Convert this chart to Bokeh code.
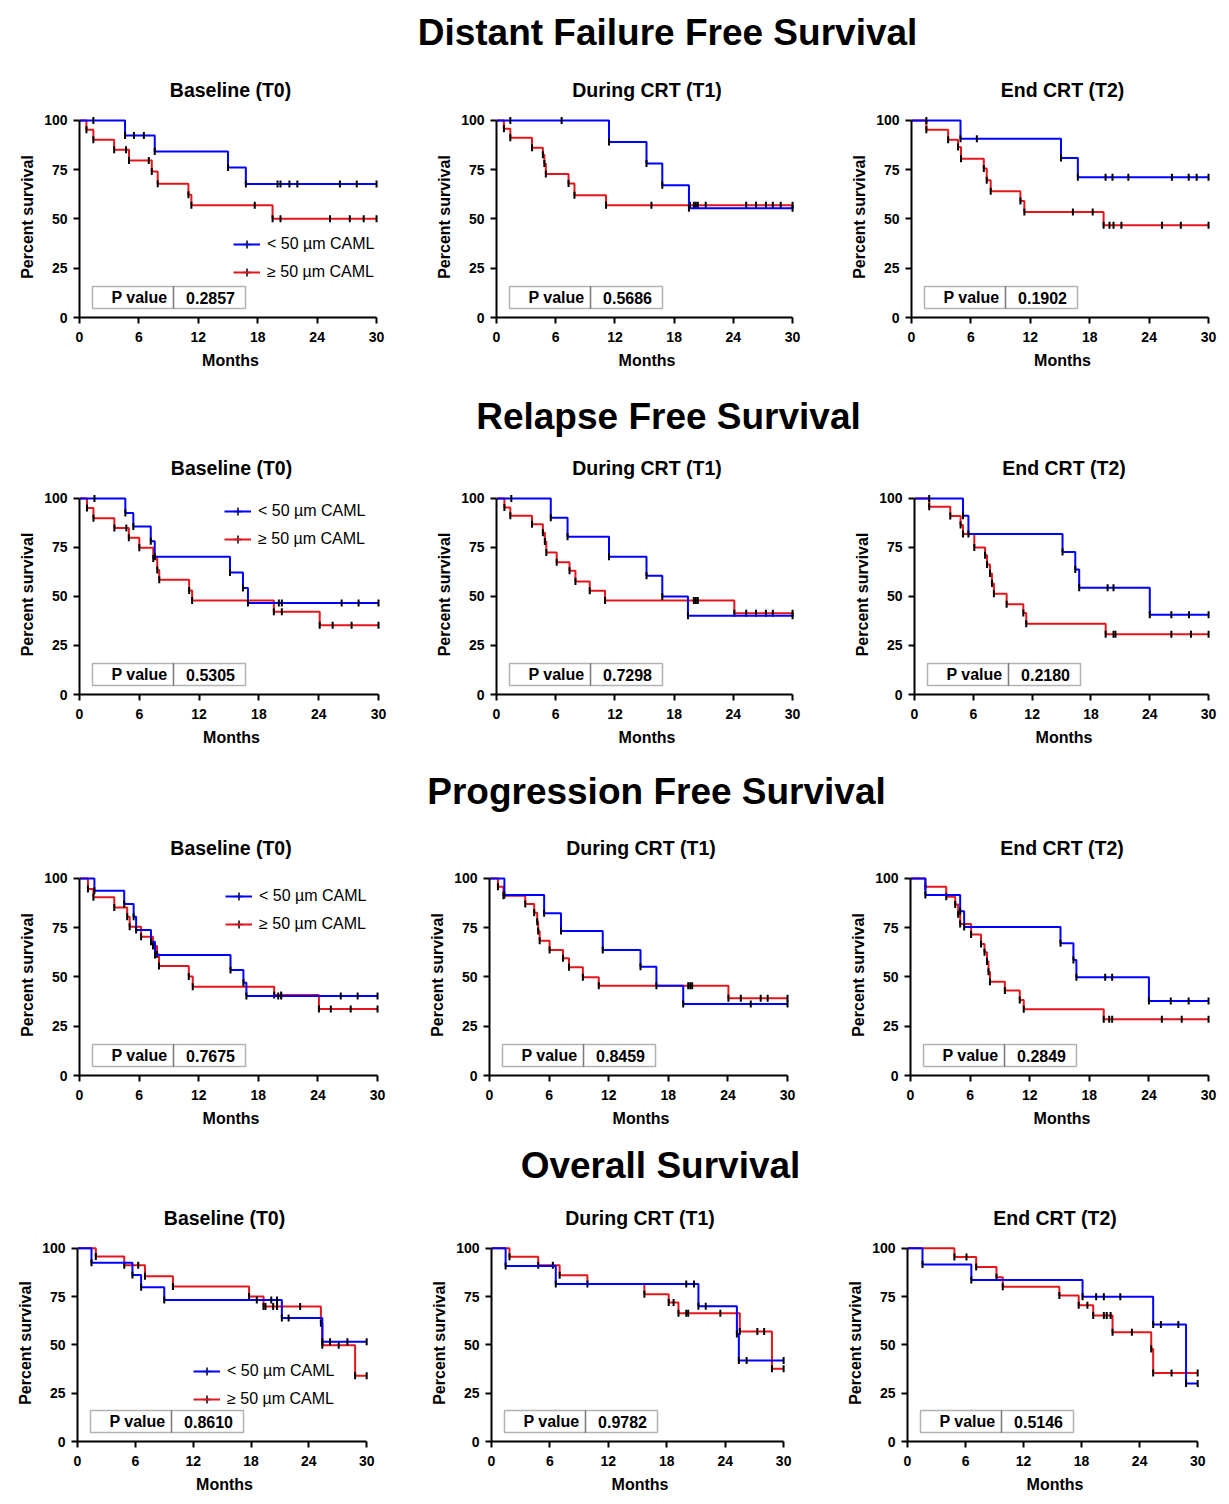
import numpy as np
from bokeh.plotting import figure
from bokeh.layouts import column, row
from bokeh.models import (Range1d, FixedTicker, Legend, LegendItem, BoxAnnotation, Label)
from bokeh.embed import file_html
from bokeh.resources import INLINE

FONT = "Liberation Sans"

# ---------------- texts ----------------
SECTION_TITLES = ["Distant Failure Free Survival", "Relapse Free Survival",
                  "Progression Free Survival", "Overall Survival"]
PANEL_TITLES = ["Baseline (T0)", "During CRT (T1)", "End CRT (T2)"]
GROUP_LABELS = ["< 50 \u00b5m CAML", "\u2265 50 \u00b5m CAML"]
X_TICKS = [0, 6, 12, 18, 24, 30]
Y_TICKS = [0, 25, 50, 75, 100]
X_LABEL = "Months"
Y_LABEL = "Percent survival"
P_LABEL = "P value"
P_VALUES = ["0.2857", "0.5686", "0.1902",
            "0.5305", "0.7298", "0.2180",
            "0.7675", "0.8459", "0.2849",
            "0.8610", "0.9782", "0.5146"]

# ---------------- data (event times, survival after event, censor times) ----------------
# Distant failure free survival
dffs_t0_lo_t = [4.6, 7.6, 15.0, 16.8]
dffs_t0_lo_s = [92.4, 84.3, 76.1, 67.7]
dffs_t0_lo_c = [1.4, 5.5, 6.5, 20.0, 20.3, 21.2, 22.0, 26.3, 28.0, 30.0]
dffs_t0_hi_t = [0.7, 1.4, 3.5, 5.0, 7.3, 7.9, 11.0, 11.3, 19.5]
dffs_t0_hi_s = [95.3, 90.2, 85.1, 79.7, 74.1, 67.9, 62.3, 57.0, 50.1]
dffs_t0_hi_c = [4.7, 7.0, 17.7, 20.3, 25.3, 27.3, 28.7, 30.0]

dffs_t1_lo_t = [11.4, 15.2, 16.8, 19.5]
dffs_t1_lo_s = [89.0, 78.2, 67.1, 55.5]
dffs_t1_lo_c = [1.4, 6.6, 30.0]
dffs_t1_hi_t = [0.75, 1.4, 3.6, 4.7, 4.85, 5.0, 7.3, 7.9, 11.1]
dffs_t1_hi_s = [95.8, 91.2, 86.2, 82.6, 78.2, 72.8, 68.0, 62.1, 57.0]
dffs_t1_hi_c = [15.7, 19.6, 20.0, 20.2, 20.4, 21.2, 25.3, 26.3, 27.3, 28.0, 28.8, 30.0]

dffs_t2_lo_t = [4.95, 15.1, 16.8]
dffs_t2_lo_s = [90.7, 81.0, 71.2]
dffs_t2_lo_c = [1.5, 6.6, 19.6, 20.3, 21.9, 26.3, 28.0, 28.8, 30.0]
dffs_t2_hi_t = [1.5, 3.7, 4.7, 5.0, 7.3, 7.6, 8.0, 11.0, 11.4, 19.4]
dffs_t2_hi_s = [95.3, 90.2, 86.5, 80.6, 75.6, 69.7, 64.1, 59.1, 53.5, 46.8]
dffs_t2_hi_c = [16.3, 18.3, 20.0, 20.4, 21.2, 25.3, 27.2, 30.0]

# Relapse free survival
rfs_t0_lo_t = [4.6, 5.4, 7.15, 7.55, 15.1, 16.4, 16.9]
rfs_t0_lo_s = [92.6, 85.7, 78.2, 70.3, 62.2, 54.3, 46.7]
rfs_t0_lo_c = [1.5, 20.0, 20.3, 26.3, 28.0, 30.0]
rfs_t0_hi_t = [0.75, 1.4, 3.5, 4.95, 6.0, 7.4, 7.8, 8.0, 11.0, 11.3, 19.5, 24.1]
rfs_t0_hi_s = [95.1, 89.9, 84.9, 80.0, 74.8, 69.4, 63.5, 58.5, 53.1, 47.9, 42.2, 35.3]
rfs_t0_hi_c = [4.7, 20.3, 25.4, 27.3, 30.0]

rfs_t1_lo_t = [5.5, 7.2, 11.4, 15.2, 16.8, 19.4]
rfs_t1_lo_s = [90.2, 80.5, 70.3, 60.5, 50.0, 40.2]
rfs_t1_lo_c = [1.5, 30.0]
rfs_t1_hi_t = [0.8, 1.4, 3.6, 4.7, 4.9, 5.05, 6.1, 7.4, 8.0, 9.45, 11.0, 24.1]
rfs_t1_hi_s = [95.4, 91.2, 86.8, 82.5, 78.0, 72.4, 67.5, 63.1, 57.6, 52.9, 48.0, 41.5]
rfs_t1_hi_c = [20.0, 20.2, 20.4, 25.3, 26.3, 27.3, 28.0, 30.0]

rfs_t2_lo_t = [4.95, 5.5, 15.1, 16.4, 16.8, 24.0]
rfs_t2_lo_s = [91.1, 81.8, 72.7, 63.7, 54.5, 40.7]
rfs_t2_lo_c = [1.5, 19.7, 20.3, 26.2, 28.0, 30.0]
rfs_t2_hi_t = [1.5, 3.65, 4.7, 4.95, 6.1, 7.2, 7.4, 7.7, 7.9, 8.1, 9.4, 11.1, 11.4, 19.5]
rfs_t2_hi_s = [95.7, 91.0, 86.4, 81.8, 75.0, 71.0, 66.3, 61.7, 56.6, 51.4, 46.0, 41.6, 36.1, 30.7]
rfs_t2_hi_c = [20.3, 20.5, 26.2, 28.2, 30.0]

# Progression free survival
pfs_t0_lo_t = [1.5, 4.5, 5.45, 5.7, 7.2, 7.6, 15.2, 16.5, 16.8]
pfs_t0_lo_s = [93.8, 87.0, 80.6, 73.8, 67.9, 61.1, 53.5, 47.1, 40.4]
pfs_t0_lo_c = [20.0, 20.3, 26.3, 28.0, 30.0]
pfs_t0_hi_t = [0.85, 1.4, 3.5, 4.8, 5.05, 6.2, 7.4, 7.8, 8.0, 11.0, 11.4, 19.6, 24.1]
pfs_t0_hi_s = [94.6, 90.4, 85.3, 80.6, 75.5, 70.4, 65.7, 61.5, 55.6, 50.2, 45.1, 40.9, 33.8]
pfs_t0_hi_c = [20.3, 25.3, 27.3, 30.0]

pfs_t1_lo_t = [1.5, 5.5, 7.2, 11.4, 15.2, 16.8, 19.5]
pfs_t1_lo_s = [91.6, 82.3, 73.3, 63.7, 55.2, 45.6, 36.3]
pfs_t1_lo_c = [26.3, 30.0]
pfs_t1_hi_t = [0.85, 1.4, 3.6, 4.5, 4.8, 4.9, 5.05, 6.05, 7.4, 8.0, 9.4, 11.0, 24.05]
pfs_t1_hi_s = [95.8, 91.2, 87.0, 82.6, 78.0, 73.3, 68.4, 63.7, 59.5, 54.9, 49.8, 45.6, 39.2]
pfs_t1_hi_c = [20.0, 20.2, 20.4, 25.3, 27.3, 28.0, 30.0]

pfs_t2_lo_t = [1.5, 5.0, 5.4, 15.1, 16.4, 16.7, 24.0]
pfs_t2_lo_s = [91.6, 83.4, 75.3, 67.1, 58.6, 49.8, 37.8]
pfs_t2_lo_c = [19.6, 20.3, 26.2, 28.0, 30.0]
pfs_t2_hi_t = [1.5, 3.6, 4.5, 4.8, 5.0, 6.1, 7.1, 7.45, 7.7, 7.85, 8.0, 9.5, 11.0, 11.4, 19.45]
pfs_t2_hi_s = [95.8, 90.7, 86.8, 81.8, 76.9, 71.6, 66.7, 62.5, 57.8, 52.6, 47.6, 43.1, 38.3, 33.6, 28.5]
pfs_t2_hi_c = [20.0, 20.3, 25.3, 27.3, 30.0]

# Overall survival
os_t0_lo_t = [1.45, 5.7, 6.6, 9.0, 21.2, 25.4]
os_t0_lo_s = [92.6, 86.2, 79.9, 73.2, 64.0, 51.6]
os_t0_lo_c = [18.6, 20.1, 20.7, 21.9, 26.2, 28.0, 30.0]
os_t0_hi_t = [1.9, 4.85, 7.0, 9.9, 17.8, 19.3, 25.25, 25.4, 28.8]
os_t0_hi_s = [95.8, 91.2, 85.5, 80.3, 75.1, 69.9, 61.2, 49.8, 34.1]
os_t0_hi_c = [6.3, 19.5, 20.3, 20.7, 23.1, 27.1, 30.0]

os_t1_lo_t = [1.45, 6.6, 21.25, 25.2, 25.4]
os_t1_lo_s = [90.9, 81.5, 70.0, 55.7, 42.0]
os_t1_lo_c = [20.0, 20.8, 22.0, 26.2, 30.0]
os_t1_hi_t = [1.85, 4.8, 7.0, 9.85, 15.7, 18.2, 19.2, 25.5, 28.8]
os_t1_hi_s = [95.7, 91.3, 86.1, 81.5, 76.3, 72.0, 66.4, 56.9, 37.7]
os_t1_hi_c = [6.3, 18.7, 20.0, 20.2, 23.5, 27.3, 28.0, 30.0]

os_t2_lo_t = [1.55, 6.6, 18.1, 25.4, 28.8]
os_t2_lo_s = [91.7, 83.6, 74.9, 60.6, 30.0]
os_t2_lo_c = [19.5, 20.3, 22.0, 26.2, 28.0, 30.0]
os_t2_hi_t = [4.85, 7.1, 9.2, 9.85, 15.7, 17.7, 19.2, 21.2, 25.2, 25.4]
os_t2_hi_s = [95.5, 90.3, 85.1, 80.1, 75.6, 70.6, 65.2, 56.6, 47.9, 35.5]
os_t2_hi_c = [6.1, 18.6, 20.3, 20.6, 21.0, 23.2, 27.3, 30.0]

PANEL_DATA = [
    ((dffs_t0_lo_t, dffs_t0_lo_s, dffs_t0_lo_c), (dffs_t0_hi_t, dffs_t0_hi_s, dffs_t0_hi_c)),
    ((dffs_t1_lo_t, dffs_t1_lo_s, dffs_t1_lo_c), (dffs_t1_hi_t, dffs_t1_hi_s, dffs_t1_hi_c)),
    ((dffs_t2_lo_t, dffs_t2_lo_s, dffs_t2_lo_c), (dffs_t2_hi_t, dffs_t2_hi_s, dffs_t2_hi_c)),
    ((rfs_t0_lo_t, rfs_t0_lo_s, rfs_t0_lo_c), (rfs_t0_hi_t, rfs_t0_hi_s, rfs_t0_hi_c)),
    ((rfs_t1_lo_t, rfs_t1_lo_s, rfs_t1_lo_c), (rfs_t1_hi_t, rfs_t1_hi_s, rfs_t1_hi_c)),
    ((rfs_t2_lo_t, rfs_t2_lo_s, rfs_t2_lo_c), (rfs_t2_hi_t, rfs_t2_hi_s, rfs_t2_hi_c)),
    ((pfs_t0_lo_t, pfs_t0_lo_s, pfs_t0_lo_c), (pfs_t0_hi_t, pfs_t0_hi_s, pfs_t0_hi_c)),
    ((pfs_t1_lo_t, pfs_t1_lo_s, pfs_t1_lo_c), (pfs_t1_hi_t, pfs_t1_hi_s, pfs_t1_hi_c)),
    ((pfs_t2_lo_t, pfs_t2_lo_s, pfs_t2_lo_c), (pfs_t2_hi_t, pfs_t2_hi_s, pfs_t2_hi_c)),
    ((os_t0_lo_t, os_t0_lo_s, os_t0_lo_c), (os_t0_hi_t, os_t0_hi_s, os_t0_hi_c)),
    ((os_t1_lo_t, os_t1_lo_s, os_t1_lo_c), (os_t1_hi_t, os_t1_hi_s, os_t1_hi_c)),
    ((os_t2_lo_t, os_t2_lo_s, os_t2_lo_c), (os_t2_hi_t, os_t2_hi_s, os_t2_hi_c)),
]

# ---------------- layout / style constants (page pixels) ----------------
COLORS = ["#0000ff", "#e3171b"]
XMAX, YMAX = 30.5, 102.0
AXIS_X = [(79, 376), (496, 792), (911, 1208),
          (79, 378), (496, 792), (914, 1208),
          (79, 377), (489, 787), (910, 1208),
          (77, 366), (491, 783), (907, 1197)]
ROW_Y = [(120, 317), (498, 694), (878, 1075), (1248, 1441)]
FIG_LEFT = [0, 418, 833]
FIG_W = [418, 415, 388]
ROW_TOP = [56, 438, 813, 1187]
ROW_H = [335, 328, 327, 313]
SEC_H = [56, 47, 47, 47]
SEC_X = [667, 668, 656, 660]
SEC_CY = [32, 25, 25, 25]
LEGEND_POS = {0: (154, 35), 3: (145, 145), 6: (146, 141), 9: (116, 32)}


def surv_at(evt_t, evt_s, t):
    k = int(np.searchsorted(evt_t, t, side="right"))
    return 100.0 if k == 0 else evt_s[k - 1]


def make_panel(i):
    r, c = divmod(i, 3)
    x0, x30 = AXIS_X[i]
    y100, y0 = ROW_Y[r]
    fw = int(round((x30 - x0) * XMAX / 30.0))
    fh = int(round((y0 - y100) * YMAX / 100.0))
    left = x0 - FIG_LEFT[c]
    right = FIG_W[c] - left - fw
    top = (y0 - fh) - ROW_TOP[r]
    bottom = ROW_H[r] - top - fh

    p = figure(width=FIG_W[c], height=ROW_H[r],
               x_range=Range1d(0, XMAX), y_range=Range1d(0, YMAX),
               min_border_left=left, min_border_right=right,
               min_border_top=top, min_border_bottom=bottom,
               toolbar_location=None, tools="", output_backend="svg",
               title=PANEL_TITLES[c])
    p.title.align = "center"
    p.title.offset = -2
    p.title.text_font = FONT
    p.title.text_font_size = "19.5px"
    p.title.text_font_style = "bold"
    p.title.text_color = "black"
    p.title.standoff = 31
    p.grid.visible = False
    p.outline_line_color = None

    p.xaxis.ticker = FixedTicker(ticks=X_TICKS)
    p.yaxis.ticker = FixedTicker(ticks=Y_TICKS)
    p.xaxis.bounds = (0, 30)
    p.yaxis.bounds = (0, 100)
    p.xaxis.axis_label = X_LABEL
    p.yaxis.axis_label = Y_LABEL
    for ax in (p.xaxis[0], p.yaxis[0]):
        ax.axis_line_width = 2
        ax.axis_line_color = "black"
        ax.major_tick_line_width = 2
        ax.major_tick_line_color = "black"
        ax.major_tick_out = 6
        ax.major_tick_in = 0
        ax.minor_tick_line_color = None
        ax.major_label_text_font = FONT
        ax.major_label_text_font_size = "14px"
        ax.major_label_text_font_style = "bold"
        ax.major_label_text_color = "black"
        ax.axis_label_text_font = FONT
        ax.axis_label_text_font_size = "16px"
        ax.axis_label_text_font_style = "bold"
        ax.axis_label_text_color = "black"
    p.xaxis.major_label_standoff = 8
    p.xaxis.axis_label_standoff = 7
    p.yaxis.major_label_standoff = 6
    p.yaxis.axis_label_standoff = 5

    items = {}
    for g in (1, 0):  # red first, blue drawn on top
        evt_t, evt_s, cens = PANEL_DATA[i][g]
        end = max(list(evt_t) + list(cens))
        xs = [0.0] + list(evt_t) + [end]
        ys = [100.0] + list(evt_s) + [evt_s[-1]]
        lr = p.step(xs, ys, mode="after", line_color=COLORS[g], line_width=2)
        mx = list(evt_t) + list(cens)
        my = list(evt_s) + [surv_at(evt_t, evt_s, t) for t in cens]
        p.scatter(mx, my, marker="dash", angle=np.pi / 2, size=7,
                  line_color="black", line_width=2)
        if i in LEGEND_POS:
            # legend-only proxy: size 0 in the plot, sized by the legend box
            proxy = p.scatter(mx[:1], my[:1], marker="cross", size=0,
                              line_color="black", line_width=1.5)
            items[g] = LegendItem(label=GROUP_LABELS[g], renderers=[proxy, lr])

    if i in LEGEND_POS:
        leg = Legend(items=[items[0], items[1]], location=LEGEND_POS[i],
                     orientation="vertical", label_text_font=FONT,
                     label_text_font_size="16px", label_text_color="black",
                     glyph_width=27, glyph_height=20, label_height=20,
                     label_standoff=7, spacing=8, padding=0, margin=0,
                     border_line_color=None, background_fill_alpha=0)
        p.add_layout(leg)

    # P value box (screen units relative to the frame)
    for (bl, br) in ((13, 94), (94, 166)):
        p.add_layout(BoxAnnotation(left=bl, right=br, bottom=9, top=31,
                                   left_units="screen", right_units="screen",
                                   bottom_units="screen", top_units="screen",
                                   fill_color=None, fill_alpha=0,
                                   line_color="black", line_width=1.5,
                                   level="overlay"))
    p.add_layout(Label(x=88, y=20, x_units="screen", y_units="screen",
                       text=P_LABEL, text_align="right", text_baseline="middle",
                       text_font=FONT, text_font_size="16px",
                       text_font_style="bold", text_color="black"))
    p.add_layout(Label(x=131, y=20, x_units="screen", y_units="screen",
                       text=P_VALUES[i], text_align="center", text_baseline="middle",
                       text_font=FONT, text_font_size="16px",
                       text_font_style="bold", text_color="black"))
    return p


def make_section(k):
    w = sum(FIG_W)
    h = SEC_H[k]
    t = figure(width=w, height=h,
               x_range=Range1d(0, w), y_range=Range1d(0, h),
               x_axis_location=None, y_axis_location=None,
               toolbar_location=None, tools="", output_backend="svg",
               min_border=0)
    t.grid.visible = False
    t.outline_line_color = None
    t.add_layout(Label(x=SEC_X[k], y=h - SEC_CY[k], text=SECTION_TITLES[k],
                       text_align="center", text_baseline="middle",
                       text_font=FONT, text_font_size="37px",
                       text_font_style="bold", text_color="black"))
    return t


blocks = []
for k in range(4):
    blocks.append(make_section(k))
    blocks.append(row(*[make_panel(3 * k + c) for c in range(3)]))

layout = column(*blocks)
open("out.html", "w").write(file_html(layout, INLINE))
